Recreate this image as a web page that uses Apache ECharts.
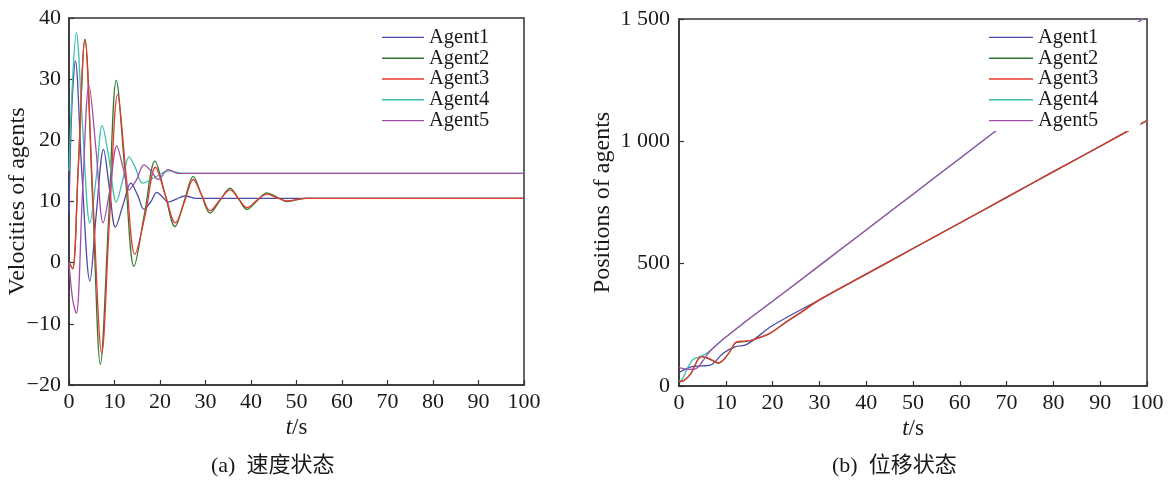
<!DOCTYPE html>
<html>
<head>
<meta charset="utf-8">
<script src="https://cdn.jsdelivr.net/npm/echarts@6/dist/echarts.min.js"></script>
<style>
  html, body { margin: 0; padding: 0; background: #fff; }
  #chart { width: 1171px; height: 490px; }
</style>
</head>
<body>
<div id="chart"></div>
<script>
// names and ticks
const agentNames = ['Agent1', 'Agent2', 'Agent3', 'Agent4', 'Agent5']
const timeTicks = [0, 10, 20, 30, 40, 50, 60, 70, 80, 90, 100]
const velTicks = [-20, -10, 0, 10, 20, 30, 40]
const posTicks = [0, 500, 1000, 1500]

// (a) velocities
const vel1T = [0, 0.6, 1.4, 2.8, 4.6, 6, 7.6, 8.9, 10.2, 11.9, 13.6, 15.1, 16.5, 18, 19.3, 20.6, 21.8, 23.6, 25.5, 28, 100]
const vel1V = [8, 25, 33, 15, -3, 8, 18.5, 12, 5.8, 9.5, 13, 11, 8.7, 10, 11.5, 10.7, 9.9, 10.4, 10.9, 10.5, 10.5]
const vel2T = [0, 0.8, 2, 3.5, 5.2, 6.9, 8.7, 10.4, 12.4, 14.3, 16.6, 18.9, 21.1, 23.3, 25.3, 27.3, 29.1, 31, 33.2, 35.4, 37.3, 39.1, 41.3, 43.5, 45.7, 47.9, 52, 100]
const vel2V = [0, -1, 15, 36.5, 10, -16.6, 7, 29.8, 14, -0.6, 8, 16.6, 11.2, 5.9, 10, 14.1, 11.1, 8.1, 10.2, 12.2, 10.4, 8.7, 10.1, 11.4, 10.7, 10, 10.5, 10.5]
const vel3T = [0, 0.8, 2, 3.5, 5.3, 7.2, 8.9, 10.7, 12.6, 14.5, 16.8, 19, 21.2, 23.4, 25.4, 27.3, 29.2, 31, 33.2, 35.4, 37.3, 39.1, 41.3, 43.5, 45.7, 47.9, 52, 100]
const vel3V = [0, -1, 15, 36.5, 10, -14.8, 7, 27.5, 14, 1.4, 8, 15.6, 11, 6.5, 10, 13.6, 11, 8.5, 10.3, 11.9, 10.4, 9, 10.2, 11.2, 10.6, 10.1, 10.5, 10.5]
const vel4T = [0, 0.8, 1.6, 3, 4.6, 6, 7.3, 8.8, 10.4, 11.8, 13.2, 14.6, 16.2, 19, 22, 25, 100]
const vel4V = [15, 30, 37.6, 22, 6.5, 14, 22.4, 17, 9.9, 13.5, 17.3, 15.5, 13, 14, 15, 14.6, 14.6]
const vel5T = [0, 0.8, 1.6, 3, 4.4, 6, 7.5, 9, 10.5, 11.9, 13.2, 14.8, 16.5, 18, 19.6, 21.8, 24, 100]
const vel5V = [0, -6, -8.3, 12, 29, 18, 6.5, 12, 19.1, 15.5, 11.9, 13.5, 16, 15, 13.6, 15.2, 14.6, 14.6]

// (b) positions
const pos1T = [0, 1.5, 3, 5, 7, 9.5, 12, 14.5, 20, 30, 40, 50, 60, 70, 80, 90, 100]
const pos1P = [55, 70, 80, 82, 88, 135, 160, 170, 247, 352, 457, 562, 666, 771, 876, 980, 1085]
const pos2T = [0, 1, 2.5, 4.8, 6.5, 8.4, 10.5, 12.3, 14.3, 16, 19.4, 23, 26, 30, 40, 50, 60, 70, 80, 90, 100]
const pos2P = [18, 22, 50, 120, 110, 93, 130, 178, 182, 190, 215, 263, 300, 352, 457, 562, 666, 771, 876, 980, 1085]
const pos3T = [0, 1, 2.5, 4.8, 6.5, 8.4, 10.5, 12.3, 14.3, 16, 19.4, 23, 26, 30, 40, 50, 60, 70, 80, 90, 100]
const pos3P = [18, 22, 50, 120, 112, 95, 130, 180, 184, 190, 215, 263, 300, 352, 457, 562, 666, 771, 876, 980, 1085]
const pos4T = [0, 0.6, 2, 3, 4.5, 6, 8.8, 10, 15, 20, 30, 40, 50, 60, 70, 80, 90, 100]
const pos4P = [22, 25, 80, 108, 120, 135, 181, 200, 275, 346, 492, 638, 784, 930, 1076, 1222, 1368, 1514]
const pos5T = [0, 2, 3.5, 5, 6.5, 8.8, 10, 15, 20, 30, 40, 50, 60, 70, 80, 90, 100]
const pos5P = [75, 68, 70, 100, 140, 181, 200, 275, 346, 492, 638, 784, 930, 1076, 1222, 1368, 1514]

const colors = ['#4a4ca6', '#2f7a30', '#e8392f', '#3dbfae', '#a44ea6']

const serif = "'Liberation Serif', 'Noto Sans CJK SC', serif"
const ink = '#1a1a1a'

const zip = (ts, vs) => ts.map((t, i) => [t, vs[i]])

const makeSeries = (name, idx, data, axis) => ({
    name: name,
    type: 'line',
    xAxisIndex: axis,
    yAxisIndex: axis,
    data: data,
    smooth: 0.35,
    symbol: 'none',
    clip: true,
    z: idx === 2 || idx === 4 ? 4 : 3,
    lineStyle: { width: 1.3, color: colors[idx] },
    itemStyle: { color: colors[idx] }
})

const velData = [zip(vel1T, vel1V), zip(vel2T, vel2V), zip(vel3T, vel3V), zip(vel4T, vel4V), zip(vel5T, vel5V)]
const posData = [zip(pos1T, pos1P), zip(pos2T, pos2P), zip(pos3T, pos3P), zip(pos4T, pos4P), zip(pos5T, pos5P)]

const seriesList = []
agentNames.forEach((n, i) => seriesList.push(makeSeries(n, i, velData[i], 0)))
agentNames.forEach((n, i) => seriesList.push(makeSeries(n, i, posData[i], 1)))

// axis helpers
const xAxisFor = (gridIndex) => ({
    type: 'value',
    gridIndex: gridIndex,
    min: timeTicks[0],
    max: timeTicks[timeTicks.length - 1],
    interval: 10,
    name: '{it|t}/s',
    nameLocation: 'middle',
    nameGap: 31,
    nameMoveOverlap: false,
    nameTextStyle: {
        fontFamily: serif, fontSize: 23, color: ink,
        rich: { it: { fontStyle: 'italic', fontFamily: serif, fontSize: 23, color: ink } }
    },
    axisLine: { show: true, onZero: false, lineStyle: { color: '#333', width: 1.5 } },
    axisTick: { show: true, inside: true, length: 5, lineStyle: { color: '#333', width: 1.2 } },
    axisLabel: { fontFamily: serif, fontSize: 22, color: ink, margin: 6 },
    splitLine: { show: false }
})

const legendFor = (left, itemWidth, padRight) => ({
    orient: 'vertical',
    left: left,
    top: 22,
    z: 10,
    padding: [5, padRight, 0, 2],
    itemGap: 0,
    itemWidth: itemWidth,
    itemHeight: 1.4,
    icon: 'rect',
    backgroundColor: '#fff',
    data: agentNames,
    textStyle: { fontFamily: serif, fontSize: 20.5, color: ink, lineHeight: 20.8 }
})

const option = {
    backgroundColor: '#fff',
    animation: false,
    grid: [
        { left: 69, top: 18, width: 455, height: 367, outerBoundsMode: 'none', containLabel: false, show: true, borderColor: '#333', borderWidth: 1.5 },
        { left: 679, top: 19, width: 468, height: 367, outerBoundsMode: 'none', containLabel: false, show: true, borderColor: '#333', borderWidth: 1.5 }
    ],
    legend: [legendFor(380, 42, 4), legendFor(987, 44, 42)],
    xAxis: [xAxisFor(0), xAxisFor(1)],
    yAxis: [
        {
            type: 'value',
            gridIndex: 0,
            min: velTicks[0],
            max: velTicks[velTicks.length - 1],
            interval: 10,
            name: 'Velocities of agents',
            nameLocation: 'middle',
            nameGap: 39,
            nameMoveOverlap: false,
            nameTextStyle: { fontFamily: serif, fontSize: 24, color: ink },
            axisLine: { show: true, onZero: false, lineStyle: { color: '#333', width: 1.5 } },
            axisTick: { show: true, inside: true, length: 5, lineStyle: { color: '#333', width: 1.2 } },
            axisLabel: {
                fontFamily: serif, fontSize: 22, color: ink, margin: 8,
                formatter: (v) => String(v).replace('-', '\u2212')
            },
            splitLine: { show: false }
        },
        {
            type: 'value',
            gridIndex: 1,
            min: posTicks[0],
            max: posTicks[posTicks.length - 1],
            interval: 500,
            name: 'Positions of agents',
            nameLocation: 'middle',
            nameGap: 64,
            nameMoveOverlap: false,
            nameTextStyle: { fontFamily: serif, fontSize: 24, color: ink },
            axisLine: { show: true, onZero: false, lineStyle: { color: '#333', width: 1.5 } },
            axisTick: { show: true, inside: true, length: 5, lineStyle: { color: '#333', width: 1.2 } },
            axisLabel: {
                fontFamily: serif, fontSize: 22, color: ink, margin: 9,
                formatter: (v) => v >= 1000 ? Math.floor(v / 1000) + ' ' + String(v % 1000).padStart(3, '0') : String(v)
            },
            splitLine: { show: false }
        }
    ],
    graphic: [
        {
            type: 'text', left: 211, top: 455,
            style: { text: '(a)  速度状态', font: "22px 'Liberation Serif', 'Noto Sans CJK SC'", fill: ink }
        },
        {
            type: 'text', left: 832, top: 455,
            style: { text: '(b)  位移状态', font: "22px 'Liberation Serif', 'Noto Sans CJK SC'", fill: ink }
        }
    ],
    series: seriesList
}

const myChart = echarts.init(document.getElementById('chart'))
myChart.setOption(option)
</script>
</body>
</html>
